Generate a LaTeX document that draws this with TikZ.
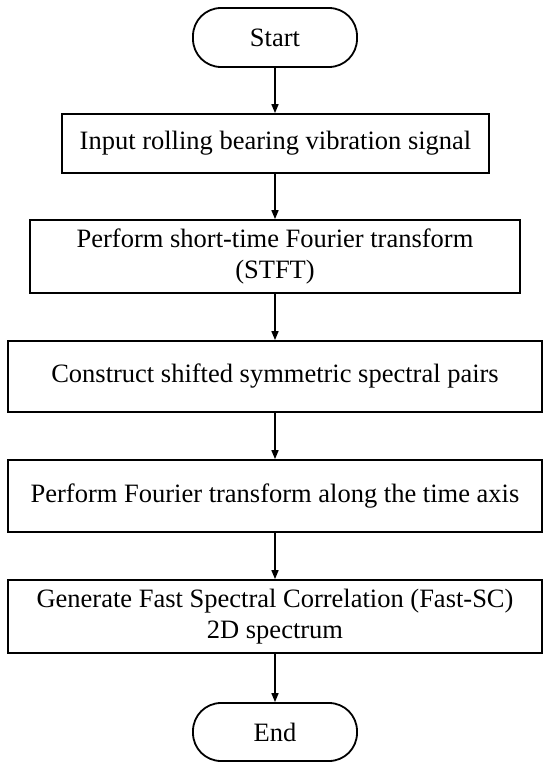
\documentclass[tikz,border=0pt]{standalone}
\usepackage{fontspec}
\setmainfont{Liberation Serif}
\usetikzlibrary{arrows.meta}
\begin{document}
\begin{tikzpicture}[x=1pt,y=-1pt,
  every node/.style={font=\fontsize{26.5}{31}\selectfont, align=center, inner sep=0pt},
  procbox/.style={draw, line width=1.8pt, rectangle},
  termbox/.style={draw, line width=1.8pt, rectangle, rounded corners=28pt, minimum width=164pt},
  flowarrow/.style={line width=1.6pt, -{Triangle[length=9pt,width=7pt]}}
]
\useasboundingbox (0,0) rectangle (550,771);
\node[termbox, minimum height=59pt] (start) at (275,37.5) {Start};
\node[procbox, minimum width=427pt, minimum height=59pt] (b1) at (275.5,143.5) {Input rolling bearing vibration signal};
\node[procbox, minimum width=490pt, minimum height=73pt] (b2) at (275,256.5) {Perform short-time Fourier transform\\(STFT)};
\node[procbox, minimum width=534pt, minimum height=71pt] (b3) at (275,376.5) {Construct shifted symmetric spectral pairs};
\node[procbox, minimum width=534pt, minimum height=72pt] (b4) at (275,496) {Perform Fourier transform along the time axis};
\node[procbox, minimum width=534pt, minimum height=73pt] (b5) at (275,616.5) {Generate Fast Spectral Correlation (Fast-SC)\\2D spectrum};
\node[termbox, minimum height=58pt] (end) at (275,732) {End};
\draw[flowarrow] (start) -- (b1.north -| start.south);
\draw[flowarrow] (b1.south -| start.south) -- (b2.north -| start.south);
\draw[flowarrow] (b2.south -| start.south) -- (b3.north -| start.south);
\draw[flowarrow] (b3.south -| start.south) -- (b4.north -| start.south);
\draw[flowarrow] (b4.south -| start.south) -- (b5.north -| start.south);
\draw[flowarrow] (b5.south -| start.south) -- (end);
\end{tikzpicture}
\end{document}
